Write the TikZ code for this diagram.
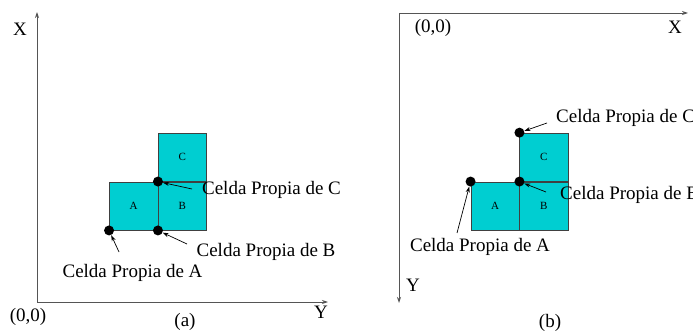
\documentclass[tikz,border=0pt]{standalone}
\usepackage{fontspec}
\setmainfont{Liberation Serif}
\usetikzlibrary{arrows.meta,positioning}

\definecolor{cellfill}{RGB}{0,206,209}
\definecolor{axisgray}{RGB}{85,85,85}

\begin{document}
\begin{tikzpicture}[
    x=1pt,y=1pt,
    node distance=0pt,
    cell/.style={rectangle,draw=black!75,fill=cellfill,minimum width=48.5pt,minimum height=48.5pt,inner sep=0pt,font=\fontsize{11}{12}\selectfont},
    dot/.style={circle,fill=black,inner sep=0pt,minimum size=10pt},
    lbl/.style={font=\fontsize{19}{22}\selectfont,inner sep=0pt},
    axis/.style={draw=axisgray,line width=0.9pt,-{Stealth[length=6pt,width=4pt]}},
    ptr/.style={line width=0.7pt,-{Stealth[length=6pt,width=4pt]}}
]
    \useasboundingbox (0,0) rectangle (693,335);

    % (a)
    \coordinate (oa) at (37,33);
    \coordinate (xa) at (37,323);
    \coordinate (ya) at (328,33);
    \draw[axis] (oa) -- (xa);
    \draw[axis] (oa) -- (ya);
    \node[lbl] (xlabA) at (20,306) {X};
    \node[lbl] (ylabA) at (321,23) {Y};
    \node[lbl] (origA) at (28,18) {(0,0)};
    \node[lbl] (capA) at (185,13) {(a)};

    \node[cell] (cellAa) at (133.5,129) {A};
    \node[cell,right=of cellAa] (cellBa) {B};
    \node[cell,above=of cellBa] (cellCa) {C};

    \node[dot] (dotAa) at (cellAa.south west) {};
    \node[dot] (dotBa) at (cellBa.south west) {};
    \node[dot] (dotCa) at (cellBa.north west) {};

    \node[lbl] (txtAa) at (132.5,62) {Celda Propia de A};
    \node[lbl] (txtBa) at (266,83) {Celda Propia de B};
    \node[lbl] (txtCa) at (271.5,145) {Celda Propia de C};

    \coordinate (tailAa) at (119,83);
    \coordinate (tailBa) at (187,91);
    \coordinate (tailCa) at (192,146);
    \draw[ptr] (tailAa) -- (dotAa);
    \draw[ptr] (tailBa) -- (dotBa);
    \draw[ptr] (tailCa) -- (dotCa);

    % (b)
    \coordinate (ob) at (399,322);
    \coordinate (xb) at (688,322);
    \coordinate (yb) at (399,32);
    \draw[axis] (ob) -- (xb);
    \draw[axis] (ob) -- (yb);
    \node[lbl] (xlabB) at (675,308) {X};
    \node[lbl] (ylabB) at (413,50) {Y};
    \node[lbl] (origB) at (433,307) {(0,0)};
    \node[lbl] (capB) at (550,12) {(b)};

    \node[cell] (cellAb) at (495,129) {A};
    \node[cell,right=of cellAb] (cellBb) {B};
    \node[cell,above=of cellBb] (cellCb) {C};

    \node[dot] (dotAb) at (cellAb.north west) {};
    \node[dot] (dotBb) at (cellBb.north west) {};
    \node[dot] (dotCb) at (cellCb.north west) {};

    \node[lbl] (txtAb) at (480,88) {Celda Propia de A};
    \node[lbl,anchor=west] (txtBb) at (560,140) {Celda Propia de B};
    \node[lbl,anchor=west] (txtCb) at (556,217) {Celda Propia de C};

    \coordinate (tailAb) at (457,102);
    \coordinate (tailBb) at (546,143);
    \coordinate (tailCb) at (547,212);
    \draw[ptr] (tailAb) -- (dotAb);
    \draw[ptr] (tailBb) -- (dotBb);
    \draw[ptr] (tailCb) -- (dotCb);
\end{tikzpicture}
\end{document}
